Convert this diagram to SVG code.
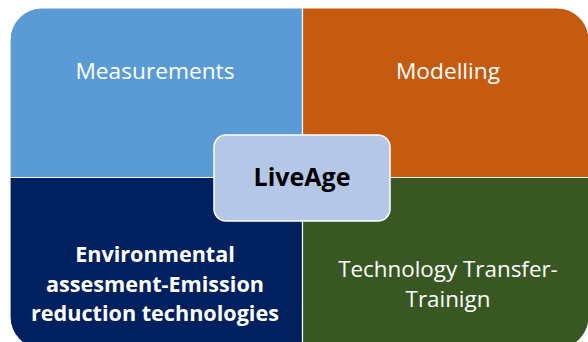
<svg xmlns="http://www.w3.org/2000/svg" width="588" height="342" viewBox="0 0 588 342">
<style>
.q{stroke:#fff;stroke-width:1.2}
.t{font-family:"Open Sans","Liberation Sans",sans-serif;fill:#fff;text-anchor:middle}
.b{font-weight:bold}
</style>
<rect width="588" height="342" fill="#fff"/>
<g id="measurements">
<path class="q" fill="#5B9BD5" d="M10,177.5 V40 A32,32 0 0 1 42,8 H302.5 V177.5 Z"/>
<text class="t" x="155" y="79" font-size="22.7">Measurements</text>
</g>
<g id="modelling">
<path class="q" fill="#C55A11" d="M302.5,177.5 V8 H557 A32,32 0 0 1 589,40 V177.5 Z"/>
<text class="t" x="448" y="79" font-size="22.7">Modelling</text>
</g>
<g id="environmental">
<path class="q" fill="#002060" d="M10,177.5 H302.5 V349 H42 A32,32 0 0 1 10,317 Z"/>
<text class="t b" font-size="21.6"><tspan x="155" y="262">Environmental</tspan><tspan x="155" y="292">assesment-Emission</tspan><tspan x="155" y="321">reduction technologies</tspan></text>
</g>
<g id="technology">
<path class="q" fill="#385723" d="M302.5,177.5 H589 V317 A32,32 0 0 1 557,349 H302.5 Z"/>
<text class="t" font-size="22.4"><tspan x="448" y="277">Technology Transfer-</tspan><tspan x="448" y="307">Trainign</tspan></text>
</g>
<g id="liveage">
<rect x="214" y="135" width="176" height="86" rx="12" fill="#B4C7E7" stroke="#fff" stroke-width="1.5"/>
<text class="b" x="302" y="186" font-size="25" text-anchor="middle" font-family="'Open Sans','Liberation Sans',sans-serif" fill="#000">LiveAge</text>
</g>
<g id="connectors"/>
</svg>
